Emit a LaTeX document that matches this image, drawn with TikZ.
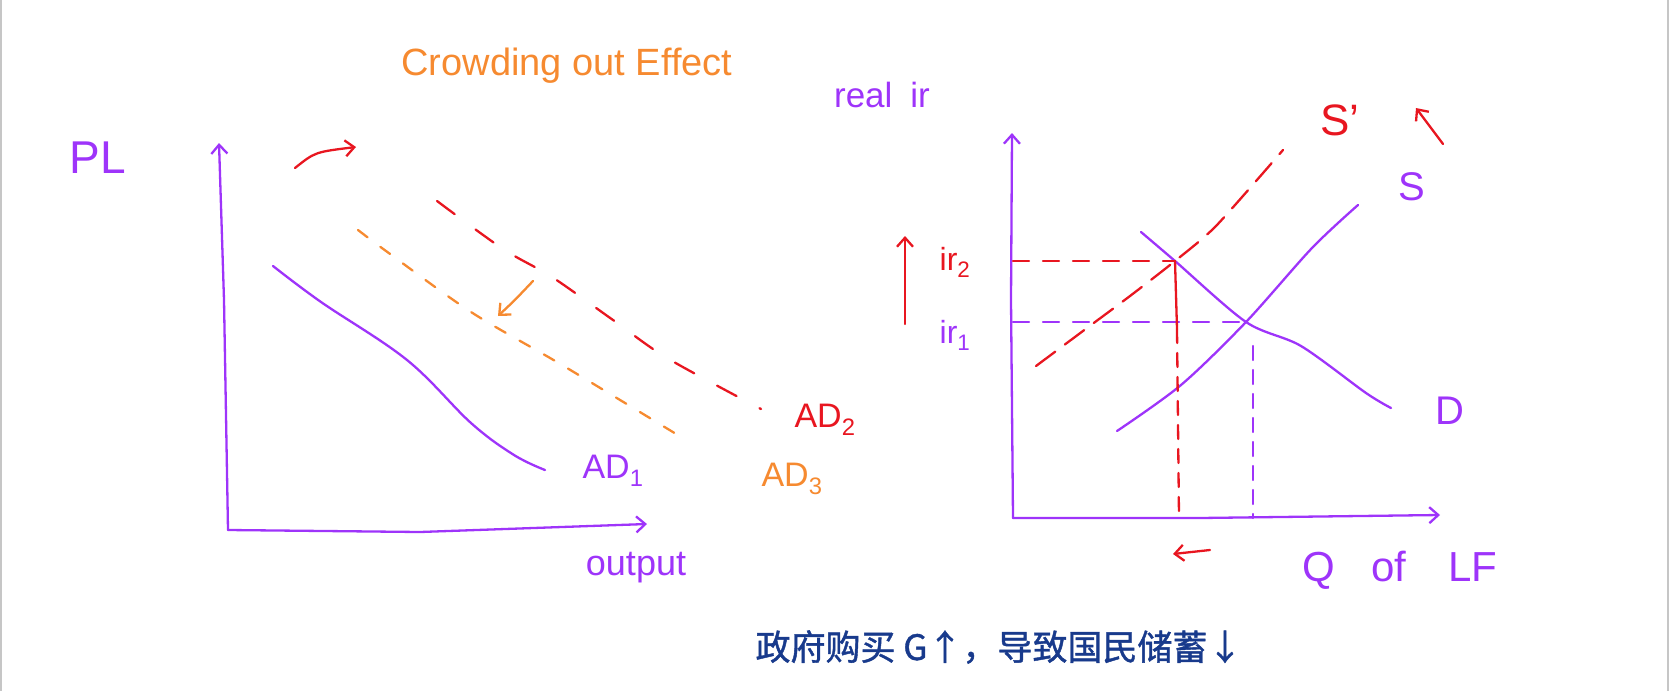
\documentclass[tikz,border=0pt]{standalone}
\usepackage{fontspec}
\setmainfont{Liberation Sans}
\newfontfamily\cjk[FakeBold=1.2]{Noto Sans CJK SC}
\usepackage{tikz}
\usetikzlibrary{calc, arrows.meta}

\definecolor{penpurple}{RGB}{158,52,250}
\definecolor{penred}{RGB}{232,22,32}
\definecolor{penorange}{RGB}{246,138,48}
\definecolor{notenavy}{RGB}{24,58,140}

\tikzset{
  pen/.style={line width=2.3pt, line cap=round, line join=round},
  barb/.style={-{Straight Barb[length=9pt, width=16pt]}},
  hand/.style={inner sep=0pt, font=\fontsize{#1}{#1}\selectfont},
}

\begin{document}
\begin{tikzpicture}[x=1pt, y=-1pt]
    \useasboundingbox (0,0) rectangle (1670,691);
    \draw[gray!45, line width=1.2pt] (1,0) -- (1,691);
    \draw[gray!45, line width=1.2pt] (1668,0) -- (1668,691);

    % left graph: AD
    \coordinate (O1) at (228,530);
    \coordinate (Ytop1) at (219,143);
    \coordinate (Xend1) at (647,524);

    \draw[pen, penpurple, barb] (O1) -- (224,300) -- (Ytop1);
    \draw[pen, penpurple, barb] (O1) -- (420,532) -- (Xend1);

    \draw[pen, penpurple] plot[smooth, tension=0.6] coordinates
        {(273,266) (321,302) (407,360) (471,423) (514,455) (545,470)};
    \draw[pen, penorange, dash pattern=on 12pt off 16pt] plot[smooth] coordinates
        {(358,230) (386,251) (471,312) (562,365) (686,440)};
    \draw[pen, penred, dash pattern=on 22pt off 26pt] plot[smooth] coordinates
        {(437,201) (503,249) (552,277) (613,320) (667,358) (761,409)};

    \draw[pen, penred, barb] (295,168) .. controls (315,152) .. (356,147);
    \draw[pen, penorange, barb] (533,281) .. controls (515,300) .. (498,316);

    \node[hand=46, penpurple] (PL) at (98,158) {PL};
    \node[hand=36, penpurple] (output) at (636,568) {output};
    \node[hand=34, penpurple] (AD1) at (613,471) {AD\textsubscript{1}};
    \node[hand=34, penorange] (AD3) at (792,479) {AD\textsubscript{3}};
    \node[hand=34, penred] (AD2) at (825,420) {AD\textsubscript{2}};
    \node[hand=38, penorange] (title) at (567,66) {Crowding out Effect};

    % right graph: loanable funds
    \coordinate (O2) at (1013,518);
    \coordinate (Ytop2) at (1012,133);
    \coordinate (Xend2) at (1440,515);
    \coordinate (E2) at (1175,261);
    \coordinate (E1) at (1246,322);

    \draw[pen, penpurple, barb] (O2) -- (1011,300) -- (Ytop2);
    \draw[pen, penpurple, barb] (O2) -- (1200,518) -- (Xend2);

    \draw[pen, penpurple] plot[smooth, tension=0.5] coordinates
        {(1141,232) (1175,261) (1246,322) (1301,346) (1366,393) (1391,408)};
    \draw[pen, penpurple] plot[smooth, tension=0.5] coordinates
        {(1117,431) (1181,385) (1246,322) (1312,248) (1358,205)};
    \draw[pen, penred, dash pattern=on 24pt off 12pt] plot[smooth, tension=0.4] coordinates
        {(1036,366) (1087,328) (1130,296) (1175,261) (1216,226) (1283,150)};

    \draw[pen, penred, dash pattern=on 16pt off 14pt] (O2 |- E2) -- (E2);
    \draw[pen, penpurple, dash pattern=on 16pt off 14pt] (O2 |- E1) -- (E1);
    \draw[pen, penred] (E2) -- ($(E2)+(2,68)$);
    \draw[pen, penred, dash pattern=on 14pt off 10pt] ($(E2)+(2,68)$) -- ($(E2 |- O2)+(4,0)$);
    \draw[pen, penpurple, dash pattern=on 14pt off 10pt] ($(E1)+(7,24)$) -- ($(E1 |- O2)+(7,0)$);

    \draw[pen, penred, barb] (905,324) -- (905,236);
    \draw[pen, penred, barb] (1443,144) -- (1416,108);
    \draw[pen, penred, barb] (1210,550) -- (1173,554);

    \node[hand=35, penpurple] (realir) at (882,95) {real\hspace{18pt}ir};
    \node[hand=32, penred] (ir2) at (955,262) {ir\textsubscript{2}};
    \node[hand=32, penpurple] (ir1) at (955,335) {ir\textsubscript{1}};
    \node[hand=44, penred] (Sp) at (1340,120) {S'};
    \node[hand=40, penpurple] (S) at (1412,187) {S};
    \node[hand=40, penpurple] (D) at (1450,411) {D};
    \node[hand=42, penpurple] (QLF) at (1400,570) {Q\hspace{36pt}of\hspace{42pt}LF};

    \node[inner sep=0pt, notenavy, font=\cjk\fontsize{35}{38}\selectfont] (note) at (999,647)
        {政府购买 G↑，导致国民储蓄↓};
\end{tikzpicture}
\end{document}
